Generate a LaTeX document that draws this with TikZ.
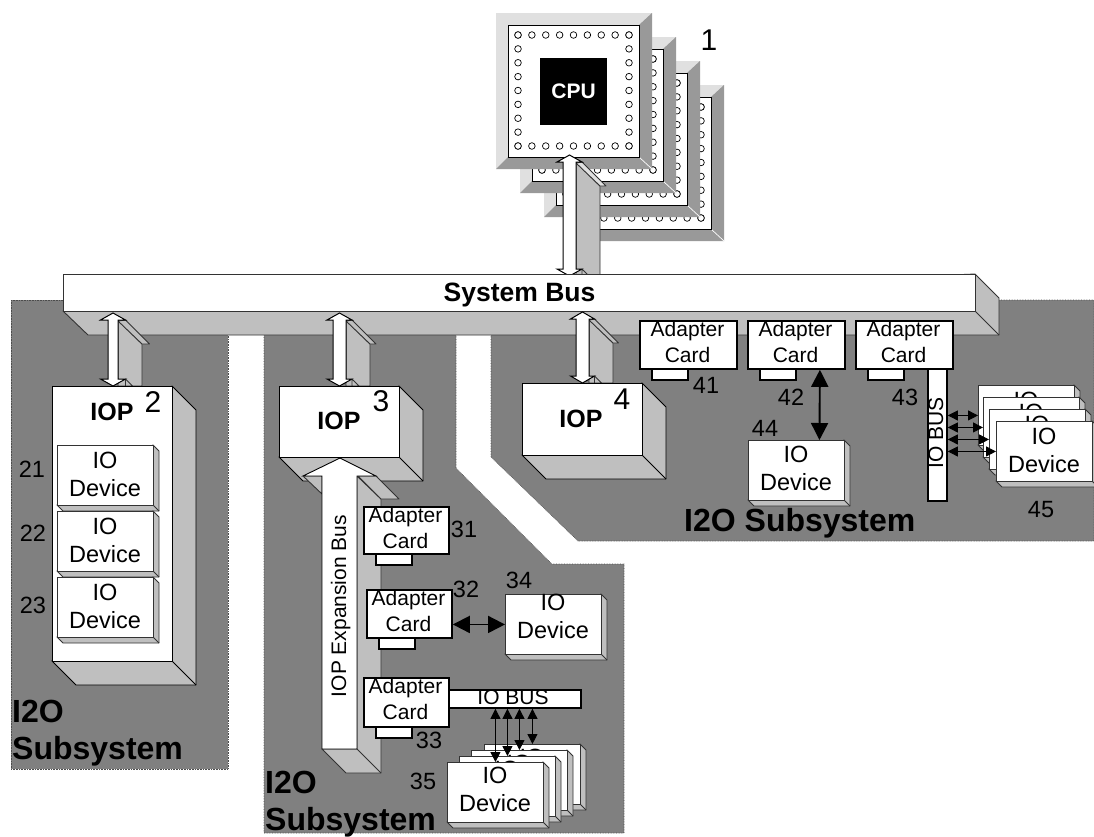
\documentclass[tikz,border=0pt]{standalone}
\usepackage{fontspec}
\setmainfont{Liberation Sans}
\usetikzlibrary{arrows.meta}
\definecolor{regiongray}{gray}{0.5}
\definecolor{facegray}{gray}{0.75}
\definecolor{bevellight}{gray}{0.88}
\definecolor{beveldark}{gray}{0.6}
\definecolor{edgegray}{gray}{0.2}
\tikzset{
  region/.style={fill=regiongray,draw=black!70,line width=0.6pt,densely dotted},
  face/.style={fill=facegray,draw=edgegray,line width=0.9pt,line join=round},
  front/.style={fill=white,draw=edgegray,line width=0.9pt,inner sep=0pt,anchor=north west},
  blackfront/.style={fill=white,draw=black,line width=1pt,inner sep=0pt,anchor=north west},
  cardbox/.style={fill=white,draw=black,line width=1.8pt,inner sep=0pt,anchor=north west},
  devtxt/.style={anchor=base,align=center,inner sep=0pt,font=\fontsize{23.5}{28}\selectfont},
  cardtxt/.style={anchor=base,align=center,inner sep=0pt,font=\fontsize{21}{26.5}\selectfont},
  num/.style={anchor=base,inner sep=0pt,font=\fontsize{23.5}{28}\selectfont},
  bignum/.style={anchor=base,inner sep=0pt,font=\fontsize{30}{30}\selectfont},
  ioplabel/.style={anchor=base,inner sep=0pt,font=\fontsize{25}{28}\selectfont\bfseries},
  subsys/.style={anchor=base west,align=left,inner sep=0pt,font=\fontsize{32}{37}\selectfont\bfseries},
  bigarrow/.style={{Triangle[length=17pt,width=17pt]}-{Triangle[length=17pt,width=17pt]},line width=1.9pt,black},
  smallarrow/.style={{Triangle[length=10pt,width=10pt]}-{Triangle[length=10pt,width=10pt]},line width=0.9pt,black},
}
% chip: name, dx offset
\newcommand\chip[2]{%
  \begin{scope}[shift={(#2,#2)}]
    \fill[bevellight] (496,13) -- (652,13) -- (652,169) -- (496,169) -- cycle;
    \fill[beveldark] (652,13) -- (639,25) -- (639,157) -- (508,157) -- (496,169) -- (652,169) -- cycle;
    \draw[white,line width=0.7pt] (639,157) -- (652,169);
    \node[front,draw=black,minimum width=131pt,minimum height=132pt] (#1) at (508,25) {};
    \foreach \k in {0,...,8} {
      \draw[black,fill=white,line width=0.7pt] ({518+13.875*\k},35) circle[radius=3.3pt];
      \draw[black,fill=white,line width=0.7pt] ({518+13.875*\k},146) circle[radius=3.3pt];
      \draw[black,fill=white,line width=0.7pt] (518,{35+13.875*\k}) circle[radius=3.3pt];
      \draw[black,fill=white,line width=0.7pt] (629,{35+13.875*\k}) circle[radius=3.3pt];
    }
  \end{scope}}
% 3D block: name, x, y, w, h, depth
\newcommand\block[6]{%
  \path[face,draw=black] ({#2+#4},#3) -- ({#2+#4+#6},{#3+#6}) -- ({#2+#4+#6},{#3+#5+#6}) -- ({#2+#6},{#3+#5+#6}) -- (#2,{#3+#5}) -- cycle;
  \draw[black,line width=0.9pt] ({#2+#4},{#3+#5}) -- ({#2+#4+#6},{#3+#5+#6});
  \node[blackfront,minimum width=#4pt,minimum height=#5pt] (#1) at (#2,#3) {};}
% device box without text
\newcommand\devshape[3]{%
  \path[face] ({#2+96},#3) -- ({#2+102},{#3+6}) -- ({#2+102},{#3+66}) -- ({#2+6},{#3+66}) -- (#2,{#3+60}) -- cycle;
  \draw[edgegray,line width=0.9pt] ({#2+96},{#3+60}) -- ({#2+102},{#3+66});
  \node[front,minimum width=96pt,minimum height=60pt] (#1) at (#2,#3) {};}
% IO device: [text offset of the first line] name, x, y
\newcommand\device[4][23]{%
  \devshape{#2}{#3}{#4}
  \node[devtxt] (#2-t) at ({#3+48},{#4+#1+28}) {IO\\Device};}
% device at the back of a stack: only the top of its IO shows
\newcommand\backdevice[4][23]{%
  \devshape{#2}{#3}{#4}
  \node[devtxt] (#2-t) at ({#3+48},{#4+#1}) {IO};}
% adapter card: name, x, y, w, h
\newcommand\adapter[5]{%
  \node[cardbox,minimum width=#4pt,minimum height=#5pt] (#1) at (#2,#3) {};
  \node[cardbox,minimum width=36pt,minimum height=11pt] (#1-tab) at ({#2+12},{#3+#5}) {};
  \node[cardtxt] (#1-t) at ({#2+#4/2},{#3+42.5}) {Adapter\\Card};}
% 3D double arrow: shaftL, shaftR, top, bottom, head half, strip colour
\newcommand\dbl[6]{%
  \pgfmathsetmacro\cx{(#1+#2)/2}
  \pgfmathsetmacro\hl{\cx-#5}
  \pgfmathsetmacro\hr{\cx+#5}
  \path[face] (#2,{#3+7}) -- ({#2+24},{#3+31}) -- ({#2+24},#4) -- (#2,#4) -- cycle;
  \path[face] (\hr,#4) -- ({\hr+7},#4) -- ({\hr},{#4-7}) -- cycle;
  \path[face,fill=#6] (#2,{#3+8}) -- ({\hr},{#3+7}) -- ({\hr+24},{#3+31}) -- ({#2+24},{#3+31}) -- cycle;
  \path[fill=white,draw=black,line width=1pt,line join=miter] (\cx,#3) -- (\hr,{#3+7}) -- (#2,{#3+7}) -- (#2,{#4-7}) -- (\hr,{#4-7}) -- (\cx,#4) -- (\hl,{#4-7}) -- (#1,{#4-7}) -- (#1,{#3+7}) -- (\hl,{#3+7}) -- cycle;}
\begin{document}
\begin{tikzpicture}[x=1pt,y=-1pt]
\clip (0,0) rectangle (1094,836);
\fill[white] (0,0) rectangle (1094,836);
% subsystem regions
\path[region] (11,300) -- (228,300) -- (228,769) -- (11,769) -- cycle;
\path[region] (264,320) -- (456,320) -- (456,468) -- (552,564) -- (624,564) -- (624,833) -- (264,833) -- cycle;
\path[region] (491,320) -- (491,457) -- (578,541) -- (1094,541) -- (1094,300) -- (990,300) -- (990,320) -- cycle;
% CPU stack
\chip{chipd}{72}
\chip{chipc}{48}
\chip{chipb}{24}
\chip{chipa}{0}
\node[fill=black,minimum width=67pt,minimum height=67pt,inner sep=0pt,text=white,font=\fontsize{21}{24}\selectfont\bfseries] (cpu) at (573.5,91.5) {CPU};
\node[bignum] (n1) at (709,50) {1};
% CPU to bus arrow
\dbl{563}{576}{155}{276}{12.5}{bevellight}
% system bus
\path[face] (975,274) -- (999,298) -- (999,335) -- (88,335) -- (63,311) -- cycle;
\draw[edgegray,line width=0.9pt] (975,311) -- (999,335);
\node[front,minimum width=912pt,minimum height=37pt] (bus) at (63,274) {};
\node[anchor=base,inner sep=0pt,font=\fontsize{26.5}{28}\selectfont\bfseries] (bustxt) at (519.5,301) {System Bus};
% IOP arrows
\dbl{108}{118}{313}{386}{12.5}{facegray}
\dbl{333}{346}{313}{386}{12.5}{facegray}
\dbl{576}{589}{312}{383}{12}{facegray}
% IOP 2
\block{iopb}{52}{386}{120}{275}{24}
\node[ioplabel] (iopbt) at (112,420) {IOP};
\node[bignum] (n2) at (153,412) {2};
\device{d21}{57}{445}
\device{d22}{57}{511}
\device{d23}{57}{577}
\node[num] (n21) at (32,477) {21};
\node[num] (n22) at (33,541) {22};
\node[num] (n23) at (33,613) {23};
\node[subsys] (sysa) at (12,759) {I2O\\Subsystem};
% IOP 3
\block{iopc}{279}{386}{120}{71}{24}
\node[ioplabel] (iopct) at (339,429) {IOP};
\node[bignum] (n3) at (381,411) {3};
% IOP expansion bus
\path[face] (357,476) -- (381,499) -- (381,773) -- (346,773) -- (322,749) -- (357,749) -- cycle;
\draw[edgegray,line width=0.9pt] (357,749) -- (381,773);
\path[face] (358,476) -- (376,476) -- (399,499) -- (381,499) -- cycle;
\path[face] (303,476) -- (322,476) -- (322,494) -- cycle;
\path[fill=white,draw=black,line width=0.9pt] (340,458) -- (376,476) -- (357,476) -- (357,749) -- (322,749) -- (322,476) -- (303,476) -- cycle;
\node[anchor=base,rotate=90,inner sep=0pt,font=\fontsize{21}{24}\selectfont] (expb) at (346,606) {IOP Expansion Bus};
% I2O 3 contents
\adapter{a31}{363}{506}{85}{47}
\node[num] (n31) at (464,537) {31};
\adapter{a32}{366}{589}{85}{48}
\node[num] (n32) at (466,597) {32};
\device[16]{d34}{505}{594}
\node[num] (n34) at (519,588) {34};
\draw[bigarrow] (a32.east |- d34.west) -- (d34.west);
\adapter{a33}{363}{677}{85}{49}
\node[num] (n33) at (429,748) {33};
\node[cardbox,minimum width=132pt,minimum height=18pt] (iobusa) at (448,689) {};
\node[anchor=base,inner sep=0pt,font=\fontsize{21}{24}\selectfont] (iobusat) at (513,704) {IO BUS};
\backdevice[21]{d35d}{484}{744}
\backdevice[21]{d35c}{471}{750}
\backdevice[21]{d35b}{459}{756}
\device[21]{d35a}{447}{762}
\draw[smallarrow] (iobusa.south -| d35a.north) -- (d35a.north);
\draw[smallarrow] (iobusa.south -| d35b.north) -- (d35b.north);
\draw[smallarrow] (iobusa.south -| d35c.north) -- (d35c.north);
\draw[smallarrow] (iobusa.south -| d35d.north) -- (d35d.north);
\node[num] (n35) at (423,789) {35};
\node[subsys] (sysb) at (265,830) {I2O\\Subsystem};
% IOP 4
\block{iopd}{522}{383}{120}{72}{24}
\node[ioplabel] (iopdt) at (581,427) {IOP};
\node[bignum] (n4) at (622,409) {4};
% I2O 4 contents
\adapter{a41}{639}{320}{97}{48}
\node[num] (n41) at (706,393) {41};
\adapter{a42}{747}{320}{97}{48}
\node[num] (n42) at (791,405) {42};
\adapter{a43}{855}{320}{97}{48}
\node[num] (n43) at (905,405) {43};
\device[22]{d44}{748}{440}
\node[num] (n44) at (765,436) {44};
\draw[bigarrow] ([xshift=23.5pt]a42.south) -- ([xshift=23pt]d44.north);
\node[cardbox,minimum width=19pt,minimum height=132pt] (iobusb) at (927,368) {};
\node[anchor=base,rotate=90,inner sep=0pt,font=\fontsize{21}{24}\selectfont] (iobusbt) at (943,433) {IO BUS};
\backdevice{d45d}{978}{385}
\backdevice{d45c}{983}{397}
\backdevice{d45b}{989}{409}
\device{d45a}{996}{421}
\draw[smallarrow] (iobusb.east |- d45d.west) -- (d45d.west);
\draw[smallarrow] (iobusb.east |- d45c.west) -- (d45c.west);
\draw[smallarrow] (iobusb.east |- d45b.west) -- (d45b.west);
\draw[smallarrow] (iobusb.east |- d45a.west) -- (d45a.west);
\node[num] (n45) at (1041,517) {45};
\node[subsys] (sysc) at (684,531) {I2O Subsystem};
\end{tikzpicture}
\end{document}
